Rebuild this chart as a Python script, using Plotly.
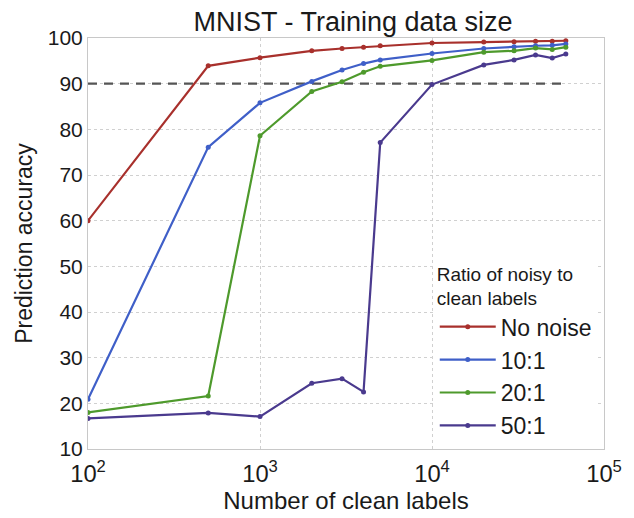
import plotly.graph_objects as go

# Number of clean training labels
clean_labels = [100, 500, 1000, 2000, 3000, 4000, 5000, 10000, 20000, 30000, 40000, 50000, 60000]

# Prediction accuracy (%) for each ratio of noisy to clean labels
acc_no_noise = [60.0, 93.9, 95.7, 97.2, 97.7, 98.0, 98.3, 98.9, 99.1, 99.2, 99.3, 99.3, 99.4]
acc_10_1 = [20.9, 76.1, 85.8, 90.5, 93.0, 94.4, 95.2, 96.6, 97.7, 98.1, 98.3, 98.4, 98.7]
acc_20_1 = [18.0, 21.6, 78.6, 88.3, 90.4, 92.5, 93.8, 95.1, 96.9, 97.2, 97.8, 97.5, 98.0]
acc_50_1 = [16.7, 17.9, 17.1, 24.4, 25.4, 22.5, 77.1, 89.8, 94.1, 95.2, 96.3, 95.6, 96.5]

series_names = ["No noise", "10:1", "20:1", "50:1"]
series_values = [acc_no_noise, acc_10_1, acc_20_1, acc_50_1]
series_colors = ["#a8302c", "#3f5fc8", "#4e9a2c", "#4a3a8e"]

threshold = 90

font_family = "Liberation Sans, Arial, sans-serif"

fig = go.Figure()

# Dashed reference line at the 90% accuracy level, spanning the data range
fig.add_trace(go.Scatter(
    x=[min(clean_labels), max(clean_labels)],
    y=[threshold, threshold],
    mode="lines",
    line=dict(color="#555555", width=2.2, dash="9px,7px"),
    showlegend=False,
    hoverinfo="skip",
))

for name, vals, color in zip(series_names, series_values, series_colors):
    fig.add_trace(go.Scatter(
        x=clean_labels,
        y=vals,
        name=name,
        mode="lines+markers",
        line=dict(color=color, width=2.2),
        marker=dict(color=color, size=5),
    ))

fig.update_layout(
    width=634,
    height=518,
    margin=dict(l=88, r=19, t=38, b=65),
    paper_bgcolor="white",
    plot_bgcolor="white",
    font=dict(family=font_family, color="#1a1a1a"),
    title=dict(
        text="MNIST - Training data size",
        x=353 / 634,
        xanchor="center",
        y=1 - 22 / 518,
        yanchor="middle",
        font=dict(size=27, color="#1a1a1a"),
    ),
    xaxis=dict(
        type="log",
        range=[2, 5],
        dtick=1,
        exponentformat="power",
        showexponent="all",
        showgrid=True,
        gridcolor="#d0d0d0",
        griddash="dot",
        gridwidth=1,
        showline=True,
        linecolor="#c8c8c8",
        linewidth=1,
        mirror=True,
        ticks="",
        ticklabelstandoff=4,
        tickfont=dict(size=19),
        title=dict(text="Number of clean labels", font=dict(size=24), standoff=3),
        zeroline=False,
    ),
    yaxis=dict(
        range=[10, 100],
        dtick=10,
        showgrid=True,
        gridcolor="#d0d0d0",
        griddash="dot",
        gridwidth=1,
        showline=True,
        linecolor="#c8c8c8",
        linewidth=1,
        mirror=True,
        ticks="",
        tickfont=dict(size=21),
        title=dict(text="Prediction accuracy", font=dict(size=23), standoff=8),
        zeroline=False,
    ),
    legend=dict(
        x=0.672,
        xanchor="left",
        y=0.47,
        yanchor="top",
        bgcolor="white",
        borderwidth=0,
        font=dict(size=23, color="#1a1a1a"),
        title=dict(text="Ratio of noisy to<br>clean labels", font=dict(size=19, color="#1a1a1a")),
        tracegroupgap=0,
        itemwidth=56,
    ),
)

fig.write_html("out.html")
